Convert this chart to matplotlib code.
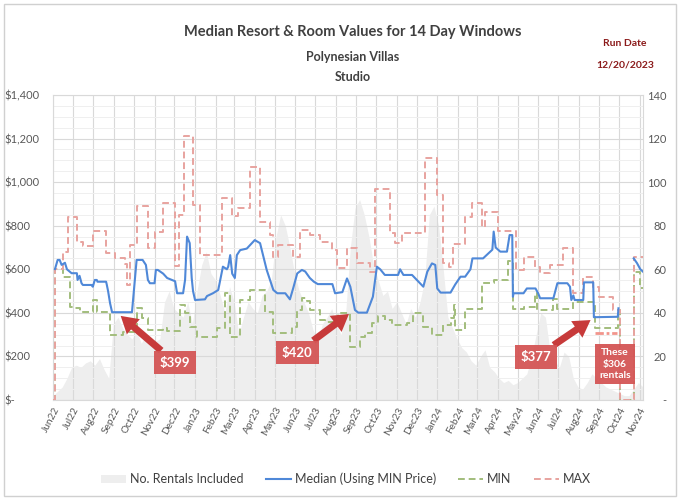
import numpy as np
import pandas as pd
import matplotlib
matplotlib.use("Agg")
import matplotlib.pyplot as plt
import matplotlib.dates as mdates
from matplotlib.patches import Rectangle
from matplotlib.ticker import FuncFormatter, MultipleLocator

plt.rcParams['font.family'] = ['Lato', 'DejaVu Sans']

# day 0 = 2022-06-01
start = pd.Timestamp('2022-06-01')
end_day = 889

# MAX (step series): day index, value
max_days = [0, 3, 15, 22, 36, 45, 60, 80, 93, 108, 111, 116, 126, 143, 153, 166, 184, 190, 197,
            211, 221, 255, 270, 279, 297, 312, 327, 332, 339, 362, 372, 387, 402, 421, 428, 443,
            458, 478, 485, 508, 515, 526, 561, 579, 587, 596, 602, 621, 632, 647, 651, 670, 697,
            709, 727, 734, 749, 769, 784, 799, 814, 822, 844, 855, 875, 889]
max_vals = [0, 600, 680, 840, 727, 705, 775, 675, 650, 625, 530, 711, 890, 700, 770, 903, 615, 849, 1212,
            895, 665, 927, 843, 881, 1069, 815, 757, 658, 711, 658, 780, 757, 727, 688, 606, 696,
            628, 588, 970, 766, 720, 766, 1111, 940, 628, 610, 715, 838, 905, 792, 865, 777, 597,
            658, 612, 582, 620, 696, 490, 564, 520, 474, 413, 0, 658, 658]

# MIN (step series)
min_days = [0, 3, 15, 25, 30, 40, 60, 66, 86, 105, 126, 134, 143, 166, 172, 191, 199, 206, 217,
            247, 259, 267, 282, 297, 320, 332, 360, 368, 375, 383, 387, 402, 410, 430, 448, 463,
            470, 481, 490, 500, 511, 534, 543, 558, 571, 588, 599, 604, 606, 621, 641, 647, 664,
            686, 693, 709, 727, 730, 754, 760, 784, 814, 816, 851, 855, 875, 885, 889]
min_vals = [0, 600, 566, 428, 421, 403, 459, 406, 298, 313, 421, 375, 321, 330, 316, 436, 398, 337, 291,
            330, 490, 287, 460, 505, 405, 306, 337, 413, 467, 455, 413, 367, 359, 399, 243, 291,
            309, 352, 386, 367, 344, 355, 398, 337, 298, 345, 376, 436, 321, 420, 420, 535, 551,
            640, 420, 428, 490, 413, 463, 417, 451, 451, 330, 413, 0, 589, 514, 514]

# Median (using MIN price)
med_days = [3, 7, 10, 13, 18, 21, 25, 28, 36, 37, 40, 43, 45, 58, 60, 63, 66, 67, 80, 81, 83, 86, 89,
            119, 126, 135, 140, 143, 146, 153, 155, 158, 166, 172, 179, 184, 187, 196, 199, 202,
            206, 209, 211, 214, 229, 232, 241, 249, 256, 262, 264, 267, 270, 274, 277, 282, 292,
            304, 312, 322, 332, 338, 350, 357, 362, 368, 375, 380, 387, 393, 399, 421, 425, 436,
            443, 448, 455, 460, 473, 482, 488, 493, 500, 520, 523, 528, 541, 553, 558, 564, 571,
            576, 579, 584, 599, 606, 614, 621, 629, 632, 648, 659, 662, 664, 667, 674, 684, 688,
            692, 693, 694, 709, 714, 727, 731, 734, 754, 760, 775, 779, 781, 784, 786, 799, 800,
            814, 815, 851, 852, 853, 875, 880, 885, 889]
med_vals = [601, 643, 643, 620, 630, 600, 590, 582, 582, 551, 570, 536, 528, 528, 520, 551, 551, 543,
            543, 530, 500, 444, 403, 403, 643, 643, 620, 551, 536, 536, 597, 597, 580, 560, 551, 545,
            490, 490, 551, 750, 720, 560, 500, 459, 462, 477, 490, 505, 612, 600, 612, 665, 580, 560,
            665, 688, 695, 734, 720, 597, 505, 490, 490, 462, 514, 581, 597, 590, 560, 543, 532, 532,
            490, 495, 558, 520, 413, 401, 401, 474, 612, 600, 574, 574, 600, 574, 574, 536, 520, 589,
            627, 620, 512, 493, 493, 530, 566, 566, 600, 650, 650, 681, 690, 773, 700, 681, 681, 757,
            757, 474, 490, 490, 512, 512, 490, 467, 467, 536, 536, 520, 459, 480, 459, 459, 540, 540,
            380, 382, 421, np.nan, 650, 628, 600, 589]

# No. rentals included, one reading per week from day 0 (right axis)
rentals = [2, 4, 6, 10, 15, 16, 15, 17, 18, 16, 19, 14, 10, 35, 38, 33, 30, 28, 32, 26,
           30, 25, 27, 28, 45, 50, 42, 40, 38, 45, 35, 50, 62, 68, 58, 55, 48, 40, 52, 45,
           30, 38, 45, 42, 40, 48, 50, 55, 75, 85, 80, 70, 58, 50, 45, 40, 32, 28, 35, 38,
           42, 35, 30, 40, 70, 88, 92, 85, 75, 62, 55, 48, 50, 42, 45, 40, 35, 42, 38, 45,
           55, 85, 89, 80, 60, 38, 33, 28, 24, 22, 18, 16, 20, 23, 15, 13, 10, 8, 9, 7,
           8, 10, 12, 20, 30, 40, 38, 22, 18, 15, 22, 20, 10, 6, 5, 8, 12, 10, 8, 6,
           5, 4, 3, 2, 2, 5, 8, 6]

# the "$306 rentals" highlight
low_days = [816, 850]
low_vals = [306, 306]


def to_dates(days):
    return start + pd.to_timedelta(np.asarray(days, dtype=float), unit='D')


blue = '#4f88d8'
green = '#a2bd7c'
red = '#e8a39f'
gray = '#eeeeee'
txt = '#595959'

fig = plt.figure(figsize=(6.82, 5.0), dpi=100)
ax2 = fig.add_axes([53 / 682, 100 / 500, 590 / 682, 305 / 500])
ax = fig.add_axes([53 / 682, 100 / 500, 590 / 682, 305 / 500], sharex=ax2)
ax.set_zorder(ax2.get_zorder() + 1)
ax.patch.set_visible(False)

# rentals area on right axis
rent_x = to_dates(np.arange(len(rentals)) * 7)
ax2.fill_between(rent_x, rentals, 0, color=gray, lw=0, label='No. Rentals Included')
ax2.set_ylim(0, 140)
ax2.yaxis.tick_right()
ax2.yaxis.set_major_locator(MultipleLocator(20))
ax2.yaxis.set_major_formatter(FuncFormatter(lambda v, p: '-' if v == 0 else f'{v:.0f}'))
for lab in ax2.get_yticklabels():
    lab.set_horizontalalignment('right')
ax2.tick_params(axis='y', length=0, pad=17, labelsize=8, labelcolor=txt)
ax2.tick_params(axis='x', bottom=False, labelbottom=False)
for s in ax2.spines.values():
    s.set_visible(False)

# price lines
ax.plot(to_dates(med_days), med_vals, color=blue, lw=1.5, label='Median (Using MIN Price)', zorder=4)
ax.step(to_dates(min_days), min_vals, where='post', color=green, lw=1.4,
        ls=(0, (3.5, 2)), label='MIN', zorder=3)
ax.step(to_dates(max_days), max_vals, where='post', color=red, lw=1.4,
        ls=(0, (3.5, 2)), label='MAX', zorder=3)
ax.plot(to_dates(low_days), low_vals, color='#f2958c', lw=2.0, ls=(0, (3, 1, 1, 1)), zorder=3)

ax.set_ylim(0, 1400)
ax.set_xlim(start, start + pd.Timedelta(days=end_day))
ax.yaxis.set_major_locator(MultipleLocator(200))
ax.yaxis.set_minor_locator(MultipleLocator(50))
ax.yaxis.set_major_formatter(FuncFormatter(lambda v, p: '$-' if v == 0 else f'${v:,.0f}'))
ax.xaxis.set_major_locator(mdates.MonthLocator())
ax.xaxis.set_major_formatter(mdates.DateFormatter('%b%y'))
ax.grid(which='major', color='#d9d9d9', lw=0.8)
ax.grid(which='minor', axis='y', color='#efefef', lw=0.7)
ax.set_axisbelow(True)
ax.tick_params(axis='both', which='both', length=0, labelcolor=txt)
ax.tick_params(axis='y', labelsize=8, pad=35)
for lab in ax.get_yticklabels():
    lab.set_horizontalalignment('left')
ax.tick_params(axis='x', labelsize=7.3, pad=4)
for lab in ax.get_xticklabels():
    lab.set_rotation(62)
    lab.set_horizontalalignment('right')
    lab.set_verticalalignment('top')
    lab.set_rotation_mode('anchor')
for s in ax.spines.values():
    s.set_color('#d9d9d9')
    s.set_linewidth(0.8)

# callouts
box = dict(boxstyle='square,pad=0.45', fc='#d45555', ec='none', alpha=0.95)
arrow = dict(arrowstyle='simple,head_length=1.0,head_width=1.2,tail_width=0.42',
             fc='#c73a3a', ec='none', mutation_scale=12, shrinkA=0, shrinkB=0)
callouts = [('$399', 102, 386, 184, 172),
            ('$420', 446, 395, 368, 218),
            ('$377', 810, 367, 728, 197)]
for label, tip_d, tip_v, box_d, box_v in callouts:
    ax.annotate(label, xy=(to_dates([tip_d])[0], tip_v), xytext=(to_dates([box_d])[0], box_v),
                ha='center', va='center', color='white', fontweight='bold', fontsize=9.5,
                bbox=box, arrowprops=arrow, zorder=6)
ax.text(to_dates([847])[0], 165, 'These\n$306\nrentals', ha='center', va='center', color='white',
        fontweight='bold', fontsize=7.5, linespacing=1.35,
        bbox=dict(boxstyle='square,pad=0.4', fc='#d45555', ec='none', alpha=0.95), zorder=6)

# titles
fig.text(353 / 682, 1 - 32 / 500, 'Median Resort & Room Values for 14 Day Windows', ha='center',
         va='center', fontsize=10.5, fontweight='bold', color='#404040')
fig.text(353 / 682, 1 - 57 / 500, 'Polynesian Villas', ha='center', va='center', fontsize=9,
         fontweight='bold', color='#404040')
fig.text(353 / 682, 1 - 77 / 500, 'Studio', ha='center', va='center', fontsize=9,
         fontweight='bold', color='#404040')
fig.text(625 / 682, 1 - 44 / 500, 'Run Date', ha='center', va='center', fontsize=7.5,
         fontweight='bold', color='#8b1a1a')
fig.text(625 / 682, 1 - 65 / 500, '12/20/2023', ha='center', va='center', fontsize=7.5,
         fontweight='bold', color='#8b1a1a')

# legend
h1, l1 = ax2.get_legend_handles_labels()
h2, l2 = ax.get_legend_handles_labels()
fig.legend(h1 + h2, l1 + l2, loc='center', bbox_to_anchor=(346 / 682, 1 - 479 / 500), ncol=4,
           frameon=False, fontsize=9, handlelength=2.0, handletextpad=0.3, columnspacing=1.8,
           labelcolor='#404040')

fig.patches.append(Rectangle((4 / 682, 4 / 500), 672 / 682, 492 / 500, transform=fig.transFigure,
                             fill=False, ec='#d0d0d0', lw=1))

fig.savefig('out.png', dpi=100)
